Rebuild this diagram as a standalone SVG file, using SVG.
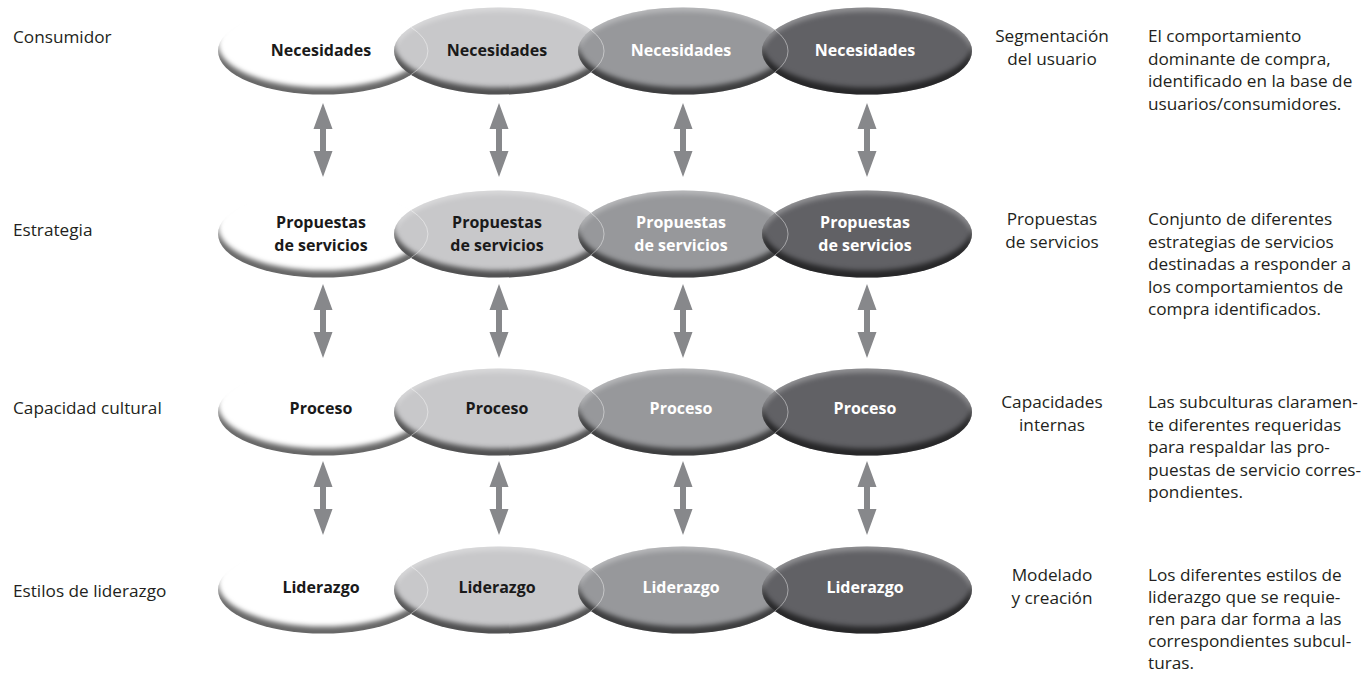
<svg xmlns="http://www.w3.org/2000/svg" width="1368" height="673" viewBox="0 0 1368 673">
  <defs>
    <style>
      .lbl { font-family: "Open Sans", "Liberation Sans", sans-serif; font-size: 17.2px; fill: #231f20; }
      .ctr { text-anchor: middle; }
      .nt { font-family: "Open Sans", "Liberation Sans", sans-serif; font-size: 16px; font-weight: 700; text-anchor: middle; }
      .dk { fill: #1a1a1a; }
      .lt { fill: #ffffff; }
      .e0 { fill: #ffffff; }
      .e1 { fill: #c8c8ca; }
      .e2 { fill: #97989b; }
      .e3 { fill: #616165; }
      .seam { fill: none; stroke: #ffffff; stroke-opacity: 0.55; stroke-width: 0.8; }
      .arrow { fill: #87888b; }
    </style>
    <!-- soft inner bevel: dark rim along the bottom, light rim along the top -->
    <filter id="bevel" x="-5%" y="-10%" width="110%" height="120%" color-interpolation-filters="sRGB">
      <feGaussianBlur in="SourceAlpha" stdDeviation="2.8" result="blur"/>
      <feOffset in="blur" dy="-7" result="up"/>
      <feComposite in="SourceAlpha" in2="up" operator="out" result="lowRim"/>
      <feFlood flood-color="#000000" flood-opacity="0.6"/>
      <feComposite in2="lowRim" operator="in" result="shade"/>
      <feOffset in="blur" dy="4" result="down"/>
      <feComposite in="SourceAlpha" in2="down" operator="out" result="topRim"/>
      <feFlood flood-color="#ffffff" flood-opacity="0.3"/>
      <feComposite in2="topRim" operator="in" result="light"/>
      <feMerge>
        <feMergeNode in="SourceGraphic"/>
        <feMergeNode in="shade"/>
        <feMergeNode in="light"/>
      </feMerge>
    </filter>
    <!-- double-headed vertical arrow, 74 px long -->
    <path id="dbl" d="M0,0 L9.5,26 L3,26 L3,48 L9.5,48 L0,74 L-9.5,48 L-3,48 L-3,26 L-9.5,26 Z"/>
  </defs>

  <rect width="1368" height="673" fill="#ffffff"/>

  <!-- left row titles -->
  <g id="row-titles">
    <text class="lbl" x="13" y="43">Consumidor</text>
    <text class="lbl" x="13" y="236">Estrategia</text>
    <text class="lbl" x="13" y="414">Capacidad cultural</text>
    <text class="lbl" x="13" y="597">Estilos de liderazgo</text>
  </g>

  <!-- row 1: needs -->
  <g id="row-necesidades">
    <g id="nec-1"><ellipse class="e0" cx="323" cy="51" rx="105" ry="43.5" filter="url(#bevel)"/><text class="nt dk" x="321" y="56">Necesidades</text></g>
    <g id="nec-2"><ellipse class="e1" cx="499" cy="51" rx="105" ry="43.5" filter="url(#bevel)"/><path class="seam" d="M411,27.3 A105,43.5 0 0 1 411,74.7"/><text class="nt dk" x="497" y="56">Necesidades</text></g>
    <g id="nec-3"><ellipse class="e2" cx="683" cy="51" rx="105" ry="43.5" filter="url(#bevel)"/><path class="seam" d="M591,30 A105,43.5 0 0 1 591,72"/><text class="nt lt" x="681" y="56">Necesidades</text></g>
    <g id="nec-4"><ellipse class="e3" cx="867" cy="51" rx="105" ry="43.5" filter="url(#bevel)"/><path class="seam" d="M775,30 A105,43.5 0 0 1 775,72"/><text class="nt lt" x="865" y="56">Necesidades</text></g>
  </g>

  <!-- row 2: service proposals -->
  <g id="row-propuestas">
    <g id="pro-1"><ellipse class="e0" cx="323" cy="234" rx="105" ry="43.5" filter="url(#bevel)"/><text class="nt dk" x="321" y="228">Propuestas</text><text class="nt dk" x="321" y="251">de servicios</text></g>
    <g id="pro-2"><ellipse class="e1" cx="499" cy="234" rx="105" ry="43.5" filter="url(#bevel)"/><path class="seam" d="M411,210.3 A105,43.5 0 0 1 411,257.7"/><text class="nt dk" x="497" y="228">Propuestas</text><text class="nt dk" x="497" y="251">de servicios</text></g>
    <g id="pro-3"><ellipse class="e2" cx="683" cy="234" rx="105" ry="43.5" filter="url(#bevel)"/><path class="seam" d="M591,213 A105,43.5 0 0 1 591,255"/><text class="nt lt" x="681" y="228">Propuestas</text><text class="nt lt" x="681" y="251">de servicios</text></g>
    <g id="pro-4"><ellipse class="e3" cx="867" cy="234" rx="105" ry="43.5" filter="url(#bevel)"/><path class="seam" d="M775,213 A105,43.5 0 0 1 775,255"/><text class="nt lt" x="865" y="228">Propuestas</text><text class="nt lt" x="865" y="251">de servicios</text></g>
  </g>

  <!-- row 3: process -->
  <g id="row-proceso">
    <g id="prc-1"><ellipse class="e0" cx="323" cy="412" rx="105" ry="43.5" filter="url(#bevel)"/><text class="nt dk" x="321" y="414">Proceso</text></g>
    <g id="prc-2"><ellipse class="e1" cx="499" cy="412" rx="105" ry="43.5" filter="url(#bevel)"/><path class="seam" d="M411,388.3 A105,43.5 0 0 1 411,435.7"/><text class="nt dk" x="497" y="414">Proceso</text></g>
    <g id="prc-3"><ellipse class="e2" cx="683" cy="412" rx="105" ry="43.5" filter="url(#bevel)"/><path class="seam" d="M591,391 A105,43.5 0 0 1 591,433"/><text class="nt lt" x="681" y="414">Proceso</text></g>
    <g id="prc-4"><ellipse class="e3" cx="867" cy="412" rx="105" ry="43.5" filter="url(#bevel)"/><path class="seam" d="M775,391 A105,43.5 0 0 1 775,433"/><text class="nt lt" x="865" y="414">Proceso</text></g>
  </g>

  <!-- row 4: leadership -->
  <g id="row-liderazgo">
    <g id="lid-1"><ellipse class="e0" cx="323" cy="590" rx="105" ry="43.5" filter="url(#bevel)"/><text class="nt dk" x="321" y="593">Liderazgo</text></g>
    <g id="lid-2"><ellipse class="e1" cx="499" cy="590" rx="105" ry="43.5" filter="url(#bevel)"/><path class="seam" d="M411,566.3 A105,43.5 0 0 1 411,613.7"/><text class="nt dk" x="497" y="593">Liderazgo</text></g>
    <g id="lid-3"><ellipse class="e2" cx="683" cy="590" rx="105" ry="43.5" filter="url(#bevel)"/><path class="seam" d="M591,569 A105,43.5 0 0 1 591,611"/><text class="nt lt" x="681" y="593">Liderazgo</text></g>
    <g id="lid-4"><ellipse class="e3" cx="867" cy="590" rx="105" ry="43.5" filter="url(#bevel)"/><path class="seam" d="M775,569 A105,43.5 0 0 1 775,611"/><text class="nt lt" x="865" y="593">Liderazgo</text></g>
  </g>

  <!-- vertical two-way links between rows -->
  <g id="connectors" class="arrow">
    <use href="#dbl" x="323" y="103"/>
    <use href="#dbl" x="499" y="103"/>
    <use href="#dbl" x="683" y="103"/>
    <use href="#dbl" x="867" y="103"/>
    <use href="#dbl" x="323" y="284"/>
    <use href="#dbl" x="499" y="284"/>
    <use href="#dbl" x="683" y="284"/>
    <use href="#dbl" x="867" y="284"/>
    <use href="#dbl" x="323" y="461"/>
    <use href="#dbl" x="499" y="461"/>
    <use href="#dbl" x="683" y="461"/>
    <use href="#dbl" x="867" y="461"/>
  </g>

  <!-- right-hand headings -->
  <g id="headings">
    <text class="lbl ctr" x="1052" y="42">Segmentación</text>
    <text class="lbl ctr" x="1052" y="65">del usuario</text>
    <text class="lbl ctr" x="1052" y="225">Propuestas</text>
    <text class="lbl ctr" x="1052" y="248">de servicios</text>
    <text class="lbl ctr" x="1052" y="408">Capacidades</text>
    <text class="lbl ctr" x="1052" y="431">internas</text>
    <text class="lbl ctr" x="1052" y="581">Modelado</text>
    <text class="lbl ctr" x="1052" y="604">y creación</text>
  </g>

  <!-- right-hand descriptions -->
  <g id="descriptions">
    <text class="lbl" x="1148" y="42">El comportamiento</text>
    <text class="lbl" x="1148" y="65">dominante de compra,</text>
    <text class="lbl" x="1148" y="87">identificado en la base de</text>
    <text class="lbl" x="1148" y="110">usuarios/consumidores.</text>

    <text class="lbl" x="1148" y="225">Conjunto de diferentes</text>
    <text class="lbl" x="1148" y="248">estrategias de servicios</text>
    <text class="lbl" x="1148" y="270">destinadas a responder a</text>
    <text class="lbl" x="1148" y="293">los comportamientos de</text>
    <text class="lbl" x="1148" y="315">compra identificados.</text>

    <text class="lbl" x="1148" y="408">Las subculturas claramen-</text>
    <text class="lbl" x="1148" y="431">te diferentes requeridas</text>
    <text class="lbl" x="1148" y="453">para respaldar las pro-</text>
    <text class="lbl" x="1148" y="476">puestas de servicio corres-</text>
    <text class="lbl" x="1148" y="498">pondientes.</text>

    <text class="lbl" x="1148" y="581">Los diferentes estilos de</text>
    <text class="lbl" x="1148" y="603">liderazgo que se requie-</text>
    <text class="lbl" x="1148" y="625">ren para dar forma a las</text>
    <text class="lbl" x="1148" y="647">correspondientes subcul-</text>
    <text class="lbl" x="1148" y="669">turas.</text>
  </g>
</svg>
